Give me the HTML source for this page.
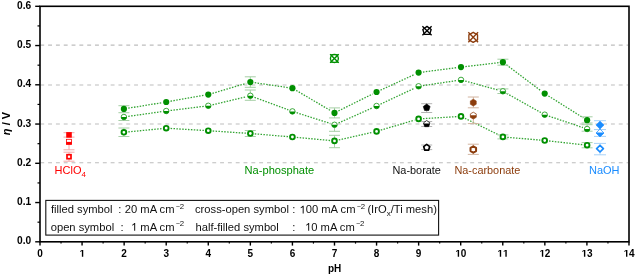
<!DOCTYPE html>
<html><head><meta charset="utf-8"><style>
html,body{margin:0;padding:0;background:#fff;}
body{width:635px;height:275px;overflow:hidden;}
svg{display:block;will-change:transform;}
text{font-family:"Liberation Sans",sans-serif;}
</style></head><body>
<svg width="635" height="275" viewBox="0 0 635 275">
<rect width="635" height="275" fill="#fff"/>
<line x1="40.3" y1="45.1" x2="628" y2="45.1" stroke="#bdbdbd" stroke-width="1.1" stroke-dasharray="3.9 3.917"/><line x1="40.3" y1="85.0" x2="628" y2="85.0" stroke="#bdbdbd" stroke-width="1.1" stroke-dasharray="3.9 3.917"/><line x1="40.3" y1="124.0" x2="628" y2="124.0" stroke="#bdbdbd" stroke-width="1.1" stroke-dasharray="3.9 3.917"/><line x1="40.3" y1="162.8" x2="628" y2="162.8" stroke="#bdbdbd" stroke-width="1.1" stroke-dasharray="3.9 3.917"/><path d="M128.24,108.19L161.87,102.71M170.54,101.24L203.95,95.36M212.50,93.35L246.13,83.35M254.70,82.73L288.07,87.57M296.21,90.43L330.70,110.67M338.43,110.94L372.62,93.96M380.56,90.16L414.60,74.44M422.96,72.03L456.64,67.67M465.37,66.59L498.53,62.71M506.42,64.84L541.18,90.96M548.43,95.94L583.37,117.86" fill="none" stroke="#008f00" stroke-width="1.3" stroke-dasharray="1.5 1.4" opacity="0.8"/><path d="M128.26,116.38L161.85,111.62M170.58,110.46L203.91,106.34M212.56,104.78L246.07,96.82M254.48,97.33L288.29,109.87M296.61,112.74L330.30,123.46M338.51,123.00L372.54,107.80M380.54,104.13L414.62,88.17M422.95,85.64L456.65,80.56M465.25,81.06L498.65,90.14M506.74,93.45L540.86,112.55M548.87,116.11L582.93,127.59" fill="none" stroke="#008f00" stroke-width="1.3" stroke-dasharray="1.5 1.4" opacity="0.8"/><path d="M128.28,131.88L161.83,128.62M170.60,128.46L203.89,130.44M212.67,130.99L245.96,133.21M254.73,133.86L288.04,136.64M296.80,137.41L330.11,140.49M338.78,139.93L372.27,132.37M380.78,130.15L414.38,120.15M422.99,118.64L456.61,116.66M464.95,118.33L498.95,134.97M507.28,137.28L540.32,140.12M549.07,140.98L582.73,144.72" fill="none" stroke="#008f00" stroke-width="1.3" stroke-dasharray="1.5 1.4" opacity="0.8"/><line x1="123.9" y1="108.9" x2="123.9" y2="105.7" stroke="#a6cfa6" stroke-width="1"/><line x1="118.4" y1="105.7" x2="129.4" y2="105.7" stroke="#a6cfa6" stroke-width="1"/><line x1="123.9" y1="108.9" x2="123.9" y2="112.7" stroke="#a6cfa6" stroke-width="1"/><line x1="118.4" y1="112.7" x2="129.4" y2="112.7" stroke="#a6cfa6" stroke-width="1"/><line x1="123.9" y1="117.0" x2="123.9" y2="120.5" stroke="#a6cfa6" stroke-width="1"/><line x1="118.4" y1="120.5" x2="129.4" y2="120.5" stroke="#a6cfa6" stroke-width="1"/><line x1="123.9" y1="132.3" x2="123.9" y2="128.0" stroke="#a6cfa6" stroke-width="1"/><line x1="118.4" y1="128.0" x2="129.4" y2="128.0" stroke="#a6cfa6" stroke-width="1"/><line x1="123.9" y1="132.3" x2="123.9" y2="136.5" stroke="#a6cfa6" stroke-width="1"/><line x1="118.4" y1="136.5" x2="129.4" y2="136.5" stroke="#a6cfa6" stroke-width="1"/><line x1="250.3" y1="82.1" x2="250.3" y2="76.8" stroke="#a6cfa6" stroke-width="1"/><line x1="244.8" y1="76.8" x2="255.8" y2="76.8" stroke="#a6cfa6" stroke-width="1"/><line x1="250.3" y1="82.1" x2="250.3" y2="87.3" stroke="#a6cfa6" stroke-width="1"/><line x1="244.8" y1="87.3" x2="255.8" y2="87.3" stroke="#a6cfa6" stroke-width="1"/><line x1="250.3" y1="95.8" x2="250.3" y2="90.0" stroke="#a6cfa6" stroke-width="1"/><line x1="244.8" y1="90.0" x2="255.8" y2="90.0" stroke="#a6cfa6" stroke-width="1"/><line x1="250.3" y1="95.8" x2="250.3" y2="100.3" stroke="#a6cfa6" stroke-width="1"/><line x1="244.8" y1="100.3" x2="255.8" y2="100.3" stroke="#a6cfa6" stroke-width="1"/><line x1="250.3" y1="133.5" x2="250.3" y2="130.5" stroke="#a6cfa6" stroke-width="1"/><line x1="244.8" y1="130.5" x2="255.8" y2="130.5" stroke="#a6cfa6" stroke-width="1"/><line x1="250.3" y1="133.5" x2="250.3" y2="136.5" stroke="#a6cfa6" stroke-width="1"/><line x1="244.8" y1="136.5" x2="255.8" y2="136.5" stroke="#a6cfa6" stroke-width="1"/><line x1="334.5" y1="112.9" x2="334.5" y2="107.9" stroke="#a6cfa6" stroke-width="1"/><line x1="329.0" y1="107.9" x2="340.0" y2="107.9" stroke="#a6cfa6" stroke-width="1"/><line x1="334.5" y1="112.9" x2="334.5" y2="117.9" stroke="#a6cfa6" stroke-width="1"/><line x1="329.0" y1="117.9" x2="340.0" y2="117.9" stroke="#a6cfa6" stroke-width="1"/><line x1="334.5" y1="124.8" x2="334.5" y2="131.3" stroke="#a6cfa6" stroke-width="1"/><line x1="329.0" y1="131.3" x2="340.0" y2="131.3" stroke="#a6cfa6" stroke-width="1"/><line x1="334.5" y1="140.9" x2="334.5" y2="135.3" stroke="#a6cfa6" stroke-width="1"/><line x1="329.0" y1="135.3" x2="340.0" y2="135.3" stroke="#a6cfa6" stroke-width="1"/><line x1="334.5" y1="140.9" x2="334.5" y2="147.7" stroke="#a6cfa6" stroke-width="1"/><line x1="329.0" y1="147.7" x2="340.0" y2="147.7" stroke="#a6cfa6" stroke-width="1"/><line x1="502.9" y1="62.2" x2="502.9" y2="59.2" stroke="#a6cfa6" stroke-width="1"/><line x1="497.4" y1="59.2" x2="508.4" y2="59.2" stroke="#a6cfa6" stroke-width="1"/><line x1="502.9" y1="62.2" x2="502.9" y2="65.2" stroke="#a6cfa6" stroke-width="1"/><line x1="497.4" y1="65.2" x2="508.4" y2="65.2" stroke="#a6cfa6" stroke-width="1"/><line x1="502.9" y1="91.3" x2="502.9" y2="88.9" stroke="#a6cfa6" stroke-width="1"/><line x1="497.4" y1="88.9" x2="508.4" y2="88.9" stroke="#a6cfa6" stroke-width="1"/><line x1="502.9" y1="91.3" x2="502.9" y2="93.5" stroke="#a6cfa6" stroke-width="1"/><line x1="497.4" y1="93.5" x2="508.4" y2="93.5" stroke="#a6cfa6" stroke-width="1"/><line x1="502.9" y1="136.9" x2="502.9" y2="134.9" stroke="#a6cfa6" stroke-width="1"/><line x1="497.4" y1="134.9" x2="508.4" y2="134.9" stroke="#a6cfa6" stroke-width="1"/><line x1="502.9" y1="136.9" x2="502.9" y2="138.9" stroke="#a6cfa6" stroke-width="1"/><line x1="497.4" y1="138.9" x2="508.4" y2="138.9" stroke="#a6cfa6" stroke-width="1"/><line x1="587.1" y1="120.2" x2="587.1" y2="116.8" stroke="#a6cfa6" stroke-width="1"/><line x1="581.6" y1="116.8" x2="592.6" y2="116.8" stroke="#a6cfa6" stroke-width="1"/><line x1="587.1" y1="120.2" x2="587.1" y2="123.0" stroke="#a6cfa6" stroke-width="1"/><line x1="581.6" y1="123.0" x2="592.6" y2="123.0" stroke="#a6cfa6" stroke-width="1"/><line x1="587.1" y1="129.0" x2="587.1" y2="124.7" stroke="#a6cfa6" stroke-width="1"/><line x1="581.6" y1="124.7" x2="592.6" y2="124.7" stroke="#a6cfa6" stroke-width="1"/><line x1="587.1" y1="129.0" x2="587.1" y2="131.2" stroke="#a6cfa6" stroke-width="1"/><line x1="581.6" y1="131.2" x2="592.6" y2="131.2" stroke="#a6cfa6" stroke-width="1"/><line x1="587.1" y1="145.2" x2="587.1" y2="142.6" stroke="#a6cfa6" stroke-width="1"/><line x1="581.6" y1="142.6" x2="592.6" y2="142.6" stroke="#a6cfa6" stroke-width="1"/><line x1="587.1" y1="145.2" x2="587.1" y2="147.8" stroke="#a6cfa6" stroke-width="1"/><line x1="581.6" y1="147.8" x2="592.6" y2="147.8" stroke="#a6cfa6" stroke-width="1"/><circle cx="123.90" cy="108.90" r="3.1" fill="#008f00"/><circle cx="123.90" cy="117.00" r="2.75" fill="#fff" stroke="#008f00" stroke-width="0.75"/><path d="M121.15,117.00 A2.75,2.75 0 0 0 126.65,117.00 Z" fill="#008f00"/><circle cx="123.90" cy="132.30" r="2.35" fill="#fff" stroke="#008f00" stroke-width="1.9"/><circle cx="166.21" cy="102.00" r="3.1" fill="#008f00"/><circle cx="166.21" cy="111.00" r="2.75" fill="#fff" stroke="#008f00" stroke-width="0.75"/><path d="M163.46,111.00 A2.75,2.75 0 0 0 168.96,111.00 Z" fill="#008f00"/><circle cx="166.21" cy="128.20" r="2.35" fill="#fff" stroke="#008f00" stroke-width="1.9"/><circle cx="208.28" cy="94.60" r="3.1" fill="#008f00"/><circle cx="208.28" cy="105.80" r="2.75" fill="#fff" stroke="#008f00" stroke-width="0.75"/><path d="M205.53,105.80 A2.75,2.75 0 0 0 211.03,105.80 Z" fill="#008f00"/><circle cx="208.28" cy="130.70" r="2.35" fill="#fff" stroke="#008f00" stroke-width="1.9"/><circle cx="250.35" cy="82.10" r="3.1" fill="#008f00"/><circle cx="250.35" cy="95.80" r="2.75" fill="#fff" stroke="#008f00" stroke-width="0.75"/><path d="M247.60,95.80 A2.75,2.75 0 0 0 253.10,95.80 Z" fill="#008f00"/><circle cx="250.35" cy="133.50" r="2.35" fill="#fff" stroke="#008f00" stroke-width="1.9"/><circle cx="292.42" cy="88.20" r="3.1" fill="#008f00"/><circle cx="292.42" cy="111.40" r="2.75" fill="#fff" stroke="#008f00" stroke-width="0.75"/><path d="M289.67,111.40 A2.75,2.75 0 0 0 295.17,111.40 Z" fill="#008f00"/><circle cx="292.42" cy="137.00" r="2.35" fill="#fff" stroke="#008f00" stroke-width="1.9"/><circle cx="334.49" cy="112.90" r="3.1" fill="#008f00"/><circle cx="334.49" cy="124.80" r="2.75" fill="#fff" stroke="#008f00" stroke-width="0.75"/><path d="M331.74,124.80 A2.75,2.75 0 0 0 337.24,124.80 Z" fill="#008f00"/><circle cx="334.49" cy="140.90" r="2.35" fill="#fff" stroke="#008f00" stroke-width="1.9"/><circle cx="376.56" cy="92.00" r="3.1" fill="#008f00"/><circle cx="376.56" cy="106.00" r="2.75" fill="#fff" stroke="#008f00" stroke-width="0.75"/><path d="M373.81,106.00 A2.75,2.75 0 0 0 379.31,106.00 Z" fill="#008f00"/><circle cx="376.56" cy="131.40" r="2.35" fill="#fff" stroke="#008f00" stroke-width="1.9"/><circle cx="418.60" cy="72.60" r="3.1" fill="#008f00"/><circle cx="418.60" cy="86.30" r="2.75" fill="#fff" stroke="#008f00" stroke-width="0.75"/><path d="M415.85,86.30 A2.75,2.75 0 0 0 421.35,86.30 Z" fill="#008f00"/><circle cx="418.60" cy="118.90" r="2.35" fill="#fff" stroke="#008f00" stroke-width="1.9"/><circle cx="461.00" cy="67.10" r="3.1" fill="#008f00"/><circle cx="461.00" cy="79.90" r="2.75" fill="#fff" stroke="#008f00" stroke-width="0.75"/><path d="M458.25,79.90 A2.75,2.75 0 0 0 463.75,79.90 Z" fill="#008f00"/><circle cx="461.00" cy="116.40" r="2.35" fill="#fff" stroke="#008f00" stroke-width="1.9"/><circle cx="502.90" cy="62.20" r="3.1" fill="#008f00"/><circle cx="502.90" cy="91.30" r="2.75" fill="#fff" stroke="#008f00" stroke-width="0.75"/><path d="M500.15,91.30 A2.75,2.75 0 0 0 505.65,91.30 Z" fill="#008f00"/><circle cx="502.90" cy="136.90" r="2.35" fill="#fff" stroke="#008f00" stroke-width="1.9"/><circle cx="544.70" cy="93.60" r="3.1" fill="#008f00"/><circle cx="544.70" cy="114.70" r="2.75" fill="#fff" stroke="#008f00" stroke-width="0.75"/><path d="M541.95,114.70 A2.75,2.75 0 0 0 547.45,114.70 Z" fill="#008f00"/><circle cx="544.70" cy="140.50" r="2.35" fill="#fff" stroke="#008f00" stroke-width="1.9"/><circle cx="587.10" cy="120.20" r="3.1" fill="#008f00"/><circle cx="587.10" cy="129.00" r="2.75" fill="#fff" stroke="#008f00" stroke-width="0.75"/><path d="M584.35,129.00 A2.75,2.75 0 0 0 589.85,129.00 Z" fill="#008f00"/><circle cx="587.10" cy="145.20" r="2.35" fill="#fff" stroke="#008f00" stroke-width="1.9"/><line x1="69.0" y1="134.9" x2="69.0" y2="132.7" stroke="#f4a8a8" stroke-width="1"/><line x1="63.5" y1="132.7" x2="74.5" y2="132.7" stroke="#f4a8a8" stroke-width="1"/><line x1="69.0" y1="134.9" x2="69.0" y2="137.1" stroke="#f4a8a8" stroke-width="1"/><line x1="63.5" y1="137.1" x2="74.5" y2="137.1" stroke="#f4a8a8" stroke-width="1"/><line x1="69.0" y1="141.8" x2="69.0" y2="149.8" stroke="#f4a8a8" stroke-width="1"/><line x1="63.5" y1="149.8" x2="74.5" y2="149.8" stroke="#f4a8a8" stroke-width="1"/><line x1="69.0" y1="156.7" x2="69.0" y2="152.2" stroke="#f4a8a8" stroke-width="1"/><line x1="63.5" y1="152.2" x2="74.5" y2="152.2" stroke="#f4a8a8" stroke-width="1"/><line x1="69.0" y1="156.7" x2="69.0" y2="161.2" stroke="#f4a8a8" stroke-width="1"/><line x1="63.5" y1="161.2" x2="74.5" y2="161.2" stroke="#f4a8a8" stroke-width="1"/><rect x="66.20" y="132.10" width="5.6" height="5.6" fill="#ff0000"/><rect x="66.50" y="139.30" width="5.0" height="5.0" fill="#fff" stroke="#ff0000" stroke-width="0.8"/><rect x="66.20" y="141.90" width="5.60" height="2.70" fill="#ff0000"/><rect x="67.00" y="154.70" width="4.0" height="4.0" fill="#fff" stroke="#ff0000" stroke-width="1.7"/><line x1="426.7" y1="107.5" x2="426.7" y2="103.7" stroke="#b4b4b4" stroke-width="1"/><line x1="421.2" y1="103.7" x2="432.2" y2="103.7" stroke="#b4b4b4" stroke-width="1"/><line x1="426.7" y1="107.5" x2="426.7" y2="112.5" stroke="#b4b4b4" stroke-width="1"/><line x1="421.2" y1="112.5" x2="432.2" y2="112.5" stroke="#b4b4b4" stroke-width="1"/><line x1="426.7" y1="124.0" x2="426.7" y2="121.5" stroke="#b4b4b4" stroke-width="1"/><line x1="421.2" y1="121.5" x2="432.2" y2="121.5" stroke="#b4b4b4" stroke-width="1"/><line x1="426.7" y1="124.0" x2="426.7" y2="126.5" stroke="#b4b4b4" stroke-width="1"/><line x1="421.2" y1="126.5" x2="432.2" y2="126.5" stroke="#b4b4b4" stroke-width="1"/><line x1="426.7" y1="147.4" x2="426.7" y2="145.0" stroke="#b4b4b4" stroke-width="1"/><line x1="421.2" y1="145.0" x2="432.2" y2="145.0" stroke="#b4b4b4" stroke-width="1"/><line x1="426.7" y1="147.4" x2="426.7" y2="149.6" stroke="#b4b4b4" stroke-width="1"/><line x1="421.2" y1="149.6" x2="432.2" y2="149.6" stroke="#b4b4b4" stroke-width="1"/><polygon points="426.70,104.00 430.12,106.49 428.82,110.51 424.58,110.51 423.28,106.49" fill="#000000" stroke="#000000" stroke-width="0.6" stroke-linejoin="round"/><clipPath id="c68"><rect x="418.70" y="123.60" width="16" height="10"/></clipPath><polygon points="426.70,120.50 429.93,122.85 428.70,126.65 424.70,126.65 423.47,122.85" fill="#fff" stroke="#000000" stroke-width="0.75" stroke-linejoin="round"/><polygon points="426.70,120.50 429.93,122.85 428.70,126.65 424.70,126.65 423.47,122.85" fill="#000000" clip-path="url(#c68)"/><polygon points="426.70,144.40 429.74,146.61 428.58,150.19 424.82,150.19 423.66,146.61" fill="#fff" stroke="#000000" stroke-width="1.7" stroke-linejoin="round"/><line x1="473.3" y1="102.6" x2="473.3" y2="97.0" stroke="#d2b4a0" stroke-width="1"/><line x1="467.8" y1="97.0" x2="478.8" y2="97.0" stroke="#d2b4a0" stroke-width="1"/><line x1="473.3" y1="102.6" x2="473.3" y2="107.8" stroke="#d2b4a0" stroke-width="1"/><line x1="467.8" y1="107.8" x2="478.8" y2="107.8" stroke="#d2b4a0" stroke-width="1"/><line x1="473.3" y1="115.6" x2="473.3" y2="123.6" stroke="#d2b4a0" stroke-width="1"/><line x1="467.8" y1="123.6" x2="478.8" y2="123.6" stroke="#d2b4a0" stroke-width="1"/><line x1="473.3" y1="149.4" x2="473.3" y2="144.2" stroke="#d2b4a0" stroke-width="1"/><line x1="467.8" y1="144.2" x2="478.8" y2="144.2" stroke="#d2b4a0" stroke-width="1"/><line x1="473.3" y1="149.4" x2="473.3" y2="154.4" stroke="#d2b4a0" stroke-width="1"/><line x1="467.8" y1="154.4" x2="478.8" y2="154.4" stroke="#d2b4a0" stroke-width="1"/><polygon points="473.30,99.20 476.24,100.90 476.24,104.30 473.30,106.00 470.36,104.30 470.36,100.90" fill="#8c3c0c" stroke="#8c3c0c" stroke-width="0.6" stroke-linejoin="round"/><clipPath id="c74"><rect x="465.30" y="115.20" width="16" height="10"/></clipPath><polygon points="473.30,112.20 476.24,113.90 476.24,117.30 473.30,119.00 470.36,117.30 470.36,113.90" fill="#fff" stroke="#8c3c0c" stroke-width="0.75" stroke-linejoin="round"/><polygon points="473.30,112.20 476.24,113.90 476.24,117.30 473.30,119.00 470.36,117.30 470.36,113.90" fill="#8c3c0c" clip-path="url(#c74)"/><polygon points="473.30,146.30 476.07,147.90 476.07,151.10 473.30,152.70 470.53,151.10 470.53,147.90" fill="#fff" stroke="#8c3c0c" stroke-width="2.0" stroke-linejoin="round"/><line x1="600.0" y1="125.1" x2="600.0" y2="120.7" stroke="#a8d2f8" stroke-width="1"/><line x1="594.0" y1="120.7" x2="606.0" y2="120.7" stroke="#a8d2f8" stroke-width="1"/><line x1="600.0" y1="125.1" x2="600.0" y2="129.5" stroke="#a8d2f8" stroke-width="1"/><line x1="594.0" y1="129.5" x2="606.0" y2="129.5" stroke="#a8d2f8" stroke-width="1"/><line x1="600.0" y1="133.0" x2="600.0" y2="129.6" stroke="#a8d2f8" stroke-width="1"/><line x1="594.0" y1="129.6" x2="606.0" y2="129.6" stroke="#a8d2f8" stroke-width="1"/><line x1="600.0" y1="133.0" x2="600.0" y2="136.4" stroke="#a8d2f8" stroke-width="1"/><line x1="594.0" y1="136.4" x2="606.0" y2="136.4" stroke="#a8d2f8" stroke-width="1"/><line x1="600.0" y1="148.7" x2="600.0" y2="143.4" stroke="#a8d2f8" stroke-width="1"/><line x1="594.0" y1="143.4" x2="606.0" y2="143.4" stroke="#a8d2f8" stroke-width="1"/><line x1="600.0" y1="148.7" x2="600.0" y2="154.8" stroke="#a8d2f8" stroke-width="1"/><line x1="594.0" y1="154.8" x2="606.0" y2="154.8" stroke="#a8d2f8" stroke-width="1"/><polygon points="600.00,121.20 604.00,125.10 600.00,129.00 596.00,125.10" fill="#1a8cff" stroke="#1a8cff" stroke-width="0.6" stroke-linejoin="round"/><clipPath id="c80"><rect x="592.00" y="132.50" width="16" height="10"/></clipPath><polygon points="600.00,129.10 604.00,133.00 600.00,136.90 596.00,133.00" fill="#fff" stroke="#1a8cff" stroke-width="0.75" stroke-linejoin="round"/><polygon points="600.00,129.10 604.00,133.00 600.00,136.90 596.00,133.00" fill="#1a8cff" clip-path="url(#c80)"/><polygon points="600.00,145.40 603.40,148.70 600.00,152.00 596.60,148.70" fill="#fff" stroke="#1a8cff" stroke-width="1.7" stroke-linejoin="round"/><g fill="none" stroke="#008f00" stroke-width="1.4" stroke-linejoin="round"><circle cx="334.40" cy="58.50" r="3.95"/><line x1="330.10" y1="54.30" x2="338.70" y2="62.70"/><line x1="330.10" y1="62.70" x2="338.70" y2="54.30"/><line x1="330.10" y1="54.50" x2="338.70" y2="54.50" stroke-width="0.8"/><line x1="330.10" y1="62.50" x2="338.70" y2="62.50" stroke-width="0.8"/></g><g fill="none" stroke="#000000" stroke-width="1.35" stroke-linejoin="round"><polygon points="427.00,26.40 431.18,29.44 429.59,34.36 424.41,34.36 422.82,29.44"/><line x1="422.40" y1="26.30" x2="431.60" y2="35.30"/><line x1="422.40" y1="35.30" x2="431.60" y2="26.30"/></g><g fill="none" stroke="#8c3c0c" stroke-width="1.35" stroke-linejoin="round"><polygon points="473.20,32.30 477.53,34.80 477.53,39.80 473.20,42.30 468.87,39.80 468.87,34.80"/><line x1="468.30" y1="32.30" x2="478.10" y2="42.30"/><line x1="468.30" y1="42.30" x2="478.10" y2="32.30"/></g>
<rect x="45.8" y="200.4" width="392.8" height="34.7" fill="#fff" stroke="#111" stroke-width="1.1"/><text x="51" y="213.4" font-size="11.2" fill="#111">filled symbol</text><text x="118.3" y="213.4" font-size="11.2" fill="#111">:</text><text x="124.8" y="213.4" font-size="11.2" fill="#111">20 mA cm<tspan font-size="7" dx="1.2" dy="-4.4">−</tspan><tspan font-size="7.8">2</tspan></text><text x="195" y="213.4" font-size="11.2" fill="#111">cross-open symbol</text><text x="292.3" y="213.4" font-size="11.2" fill="#111">:</text><text x="299.50" y="213.40" font-size="11.2" fill="#111"> 00</text><path d="M583,0L583,1147L222,930L222,1104Q420,1210 520,1330Q580,1400 600,1409L763,1409L763,0Z" transform="translate(299.50,213.40) scale(0.00547,-0.00547)" fill="#111"/><text x="321.30" y="213.4" font-size="11.2" fill="#111">mA cm<tspan font-size="7" dx="1.2" dy="-4.4">−</tspan><tspan font-size="7.8">2</tspan></text><text x="367.4" y="213.4" font-size="11.2" fill="#111">(IrO<tspan font-size="8" dy="3">x</tspan><tspan dy="-3">/Ti mesh)</tspan></text><text x="50.7" y="230.8" font-size="11.2" fill="#111">open symbol</text><text x="120.5" y="230.8" font-size="11.2" fill="#111">:</text><text x="131.00" y="230.80" font-size="11.2" fill="#111"> </text><path d="M583,0L583,1147L222,930L222,1104Q420,1210 520,1330Q580,1400 600,1409L763,1409L763,0Z" transform="translate(131.00,230.80) scale(0.00547,-0.00547)" fill="#111"/><text x="140.34" y="230.8" font-size="11.2" fill="#111">mA cm<tspan font-size="7" dx="1.2" dy="-4.4">−</tspan><tspan font-size="7.8">2</tspan></text><text x="195.5" y="230.8" font-size="11.2" fill="#111">half-filled symbol</text><text x="292.3" y="230.8" font-size="11.2" fill="#111">:</text><text x="305.00" y="230.80" font-size="11.2" fill="#111"> 0</text><path d="M583,0L583,1147L222,930L222,1104Q420,1210 520,1330Q580,1400 600,1409L763,1409L763,0Z" transform="translate(305.00,230.80) scale(0.00547,-0.00547)" fill="#111"/><text x="320.57" y="230.8" font-size="11.2" fill="#111">mA cm<tspan font-size="7" dx="1.2" dy="-4.4">−</tspan><tspan font-size="7.8">2</tspan></text>
<rect x="40" y="6.3" width="589" height="235.5" fill="none" stroke="#000" stroke-width="1.6"/><line x1="35.2" y1="241.80" x2="40" y2="241.80" stroke="#000" stroke-width="1.4"/><line x1="35.2" y1="202.55" x2="40" y2="202.55" stroke="#000" stroke-width="1.4"/><line x1="35.2" y1="163.30" x2="40" y2="163.30" stroke="#000" stroke-width="1.4"/><line x1="35.2" y1="124.05" x2="40" y2="124.05" stroke="#000" stroke-width="1.4"/><line x1="35.2" y1="84.80" x2="40" y2="84.80" stroke="#000" stroke-width="1.4"/><line x1="35.2" y1="45.55" x2="40" y2="45.55" stroke="#000" stroke-width="1.4"/><line x1="35.2" y1="6.30" x2="40" y2="6.30" stroke="#000" stroke-width="1.4"/><line x1="37.5" y1="222.18" x2="40" y2="222.18" stroke="#000" stroke-width="1.2"/><line x1="37.5" y1="182.93" x2="40" y2="182.93" stroke="#000" stroke-width="1.2"/><line x1="37.5" y1="143.68" x2="40" y2="143.68" stroke="#000" stroke-width="1.2"/><line x1="37.5" y1="104.43" x2="40" y2="104.43" stroke="#000" stroke-width="1.2"/><line x1="37.5" y1="65.18" x2="40" y2="65.18" stroke="#000" stroke-width="1.2"/><line x1="37.5" y1="25.92" x2="40" y2="25.92" stroke="#000" stroke-width="1.2"/><line x1="40.00" y1="241.8" x2="40.00" y2="245.6" stroke="#000" stroke-width="1.4"/><line x1="82.07" y1="241.8" x2="82.07" y2="245.6" stroke="#000" stroke-width="1.4"/><line x1="124.14" y1="241.8" x2="124.14" y2="245.6" stroke="#000" stroke-width="1.4"/><line x1="166.21" y1="241.8" x2="166.21" y2="245.6" stroke="#000" stroke-width="1.4"/><line x1="208.28" y1="241.8" x2="208.28" y2="245.6" stroke="#000" stroke-width="1.4"/><line x1="250.35" y1="241.8" x2="250.35" y2="245.6" stroke="#000" stroke-width="1.4"/><line x1="292.42" y1="241.8" x2="292.42" y2="245.6" stroke="#000" stroke-width="1.4"/><line x1="334.49" y1="241.8" x2="334.49" y2="245.6" stroke="#000" stroke-width="1.4"/><line x1="376.56" y1="241.8" x2="376.56" y2="245.6" stroke="#000" stroke-width="1.4"/><line x1="418.63" y1="241.8" x2="418.63" y2="245.6" stroke="#000" stroke-width="1.4"/><line x1="460.70" y1="241.8" x2="460.70" y2="245.6" stroke="#000" stroke-width="1.4"/><line x1="502.77" y1="241.8" x2="502.77" y2="245.6" stroke="#000" stroke-width="1.4"/><line x1="544.84" y1="241.8" x2="544.84" y2="245.6" stroke="#000" stroke-width="1.4"/><line x1="586.91" y1="241.8" x2="586.91" y2="245.6" stroke="#000" stroke-width="1.4"/><line x1="628.98" y1="241.8" x2="628.98" y2="245.6" stroke="#000" stroke-width="1.4"/><line x1="61.03" y1="241.8" x2="61.03" y2="243.6" stroke="#000" stroke-width="1.2"/><line x1="103.11" y1="241.8" x2="103.11" y2="243.6" stroke="#000" stroke-width="1.2"/><line x1="145.18" y1="241.8" x2="145.18" y2="243.6" stroke="#000" stroke-width="1.2"/><line x1="187.25" y1="241.8" x2="187.25" y2="243.6" stroke="#000" stroke-width="1.2"/><line x1="229.31" y1="241.8" x2="229.31" y2="243.6" stroke="#000" stroke-width="1.2"/><line x1="271.38" y1="241.8" x2="271.38" y2="243.6" stroke="#000" stroke-width="1.2"/><line x1="313.45" y1="241.8" x2="313.45" y2="243.6" stroke="#000" stroke-width="1.2"/><line x1="355.52" y1="241.8" x2="355.52" y2="243.6" stroke="#000" stroke-width="1.2"/><line x1="397.60" y1="241.8" x2="397.60" y2="243.6" stroke="#000" stroke-width="1.2"/><line x1="439.67" y1="241.8" x2="439.67" y2="243.6" stroke="#000" stroke-width="1.2"/><line x1="481.74" y1="241.8" x2="481.74" y2="243.6" stroke="#000" stroke-width="1.2"/><line x1="523.81" y1="241.8" x2="523.81" y2="243.6" stroke="#000" stroke-width="1.2"/><line x1="565.88" y1="241.8" x2="565.88" y2="243.6" stroke="#000" stroke-width="1.2"/><line x1="607.95" y1="241.8" x2="607.95" y2="243.6" stroke="#000" stroke-width="1.2"/>
<g fill="#000"><text x="31.2" y="244.40" text-anchor="end" font-size="10.2" font-weight="bold">0.0</text><text x="31.2" y="205.15" text-anchor="end" font-size="10.2" font-weight="bold">0.1</text><text x="31.2" y="165.90" text-anchor="end" font-size="10.2" font-weight="bold">0.2</text><text x="31.2" y="126.65" text-anchor="end" font-size="10.2" font-weight="bold">0.3</text><text x="31.2" y="87.40" text-anchor="end" font-size="10.2" font-weight="bold">0.4</text><text x="31.2" y="48.15" text-anchor="end" font-size="10.2" font-weight="bold">0.5</text><text x="31.2" y="8.90" text-anchor="end" font-size="10.2" font-weight="bold">0.6</text><text x="37.22" y="256.80" font-size="10" font-weight="bold">0</text><text x="79.29" y="256.80" font-size="10" font-weight="bold"> </text><path d="M530,0L530,1170L190,959L190,1180L545,1409L811,1409L811,0Z" transform="translate(79.29,256.80) scale(0.00488,-0.00488)"/><text x="121.36" y="256.80" font-size="10" font-weight="bold">2</text><text x="163.43" y="256.80" font-size="10" font-weight="bold">3</text><text x="205.50" y="256.80" font-size="10" font-weight="bold">4</text><text x="247.57" y="256.80" font-size="10" font-weight="bold">5</text><text x="289.64" y="256.80" font-size="10" font-weight="bold">6</text><text x="331.71" y="256.80" font-size="10" font-weight="bold">7</text><text x="373.78" y="256.80" font-size="10" font-weight="bold">8</text><text x="415.85" y="256.80" font-size="10" font-weight="bold">9</text><text x="455.14" y="256.80" font-size="10" font-weight="bold"> 0</text><path d="M530,0L530,1170L190,959L190,1180L545,1409L811,1409L811,0Z" transform="translate(455.14,256.80) scale(0.00488,-0.00488)"/><text x="497.21" y="256.80" font-size="10" font-weight="bold">  </text><path d="M530,0L530,1170L190,959L190,1180L545,1409L811,1409L811,0Z" transform="translate(497.21,256.80) scale(0.00488,-0.00488)"/><path d="M530,0L530,1170L190,959L190,1180L545,1409L811,1409L811,0Z" transform="translate(502.77,256.80) scale(0.00488,-0.00488)"/><text x="539.28" y="256.80" font-size="10" font-weight="bold"> 2</text><path d="M530,0L530,1170L190,959L190,1180L545,1409L811,1409L811,0Z" transform="translate(539.28,256.80) scale(0.00488,-0.00488)"/><text x="581.35" y="256.80" font-size="10" font-weight="bold"> 3</text><path d="M530,0L530,1170L190,959L190,1180L545,1409L811,1409L811,0Z" transform="translate(581.35,256.80) scale(0.00488,-0.00488)"/><text x="623.42" y="256.80" font-size="10" font-weight="bold"> 4</text><path d="M530,0L530,1170L190,959L190,1180L545,1409L811,1409L811,0Z" transform="translate(623.42,256.80) scale(0.00488,-0.00488)"/><text x="334.6" y="271.9" text-anchor="middle" font-size="10" font-weight="bold">pH</text><text transform="translate(9.8,123.5) rotate(-90)" text-anchor="middle" font-size="11" font-weight="bold"><tspan font-style="italic">η</tspan> / V</text><text x="54.6" y="174.1" font-size="11" fill="#ff0000">HClO<tspan font-size="8" dy="2.8">4</tspan></text><text x="244.6" y="174.2" font-size="11.1" fill="#008f00">Na-phosphate</text><text x="392.5" y="174.0" font-size="10.9" fill="#111">Na-borate</text><text x="454.4" y="173.9" font-size="10.9" fill="#8c3c0c">Na-carbonate</text><text x="589.0" y="174.0" font-size="11" fill="#1a8cff">NaOH</text></g>
</svg>
</body></html>
